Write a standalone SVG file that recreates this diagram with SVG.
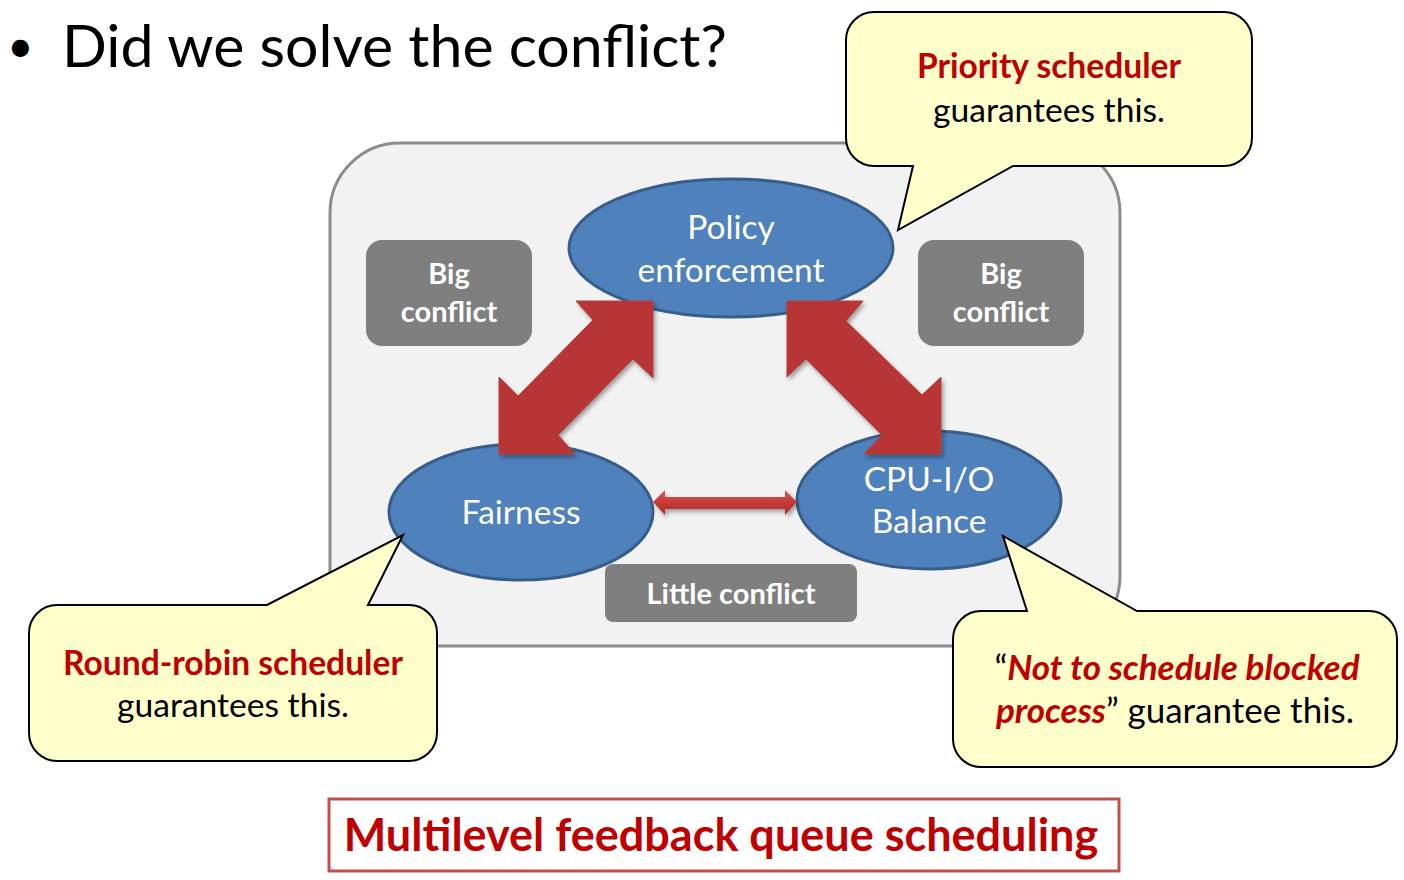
<svg xmlns="http://www.w3.org/2000/svg" width="1404" height="880" viewBox="0 0 1404 880">
  <style>
    text { font-family: Lato, "Open Sans", "Liberation Sans", sans-serif; text-anchor: middle; }
    .title { font-size: 59px; fill: #000; text-anchor: start; }
    .bullet { font-size: 46px; fill: #000; text-anchor: start; }
    .oval { fill: #4f81bd; stroke: #385d8a; stroke-width: 3; }
    .oval-label { font-size: 33.5px; fill: #fff; }
    .tag { fill: #7f7f7f; }
    .tag-label { font-size: 29px; font-weight: bold; fill: #fff; }
    .callout { fill: #ffffcc; stroke: #000; stroke-width: 2; stroke-linejoin: miter; }
    .note { font-size: 33.6px; fill: #000; }
    .note.wide { font-size: 35px; }
    text.red, tspan.red { fill: #c00000; font-weight: bold; }
    .big-arrow { fill: #b83535; stroke: #b0403d; stroke-width: 1; filter: url(#shadow); }
  </style>
  <defs>
    <filter id="shadow" x="-20%" y="-20%" width="140%" height="140%">
      <feGaussianBlur in="SourceAlpha" stdDeviation="2"/>
      <feOffset dx="2" dy="3" result="b"/>
      <feComponentTransfer><feFuncA type="linear" slope="0.35"/></feComponentTransfer>
      <feMerge><feMergeNode/><feMergeNode in="SourceGraphic"/></feMerge>
    </filter>
    <linearGradient id="thin" x1="0" y1="0" x2="0" y2="1">
      <stop offset="0" stop-color="#d45a57"/>
      <stop offset="0.5" stop-color="#c43a37"/>
      <stop offset="1" stop-color="#a82f2c"/>
    </linearGradient>
  </defs>

  <rect width="1404" height="880" fill="#fff"/>

  <!-- heading -->
  <g id="heading">
    <text class="bullet" x="7" y="62">•</text>
    <text class="title" x="62" y="67">Did we solve the conflict?</text>
  </g>

  <!-- background panel -->
  <g id="panel">
    <rect x="330" y="143" width="790" height="503" rx="70" ry="70" fill="#f2f2f2" stroke="#8c8c8c" stroke-width="3"/>
  </g>

  <!-- conflict tags -->
  <g id="tag-left">
    <rect class="tag" x="366" y="240" width="166" height="106" rx="16"/>
    <text class="tag-label" x="449" y="284">Big</text>
    <text class="tag-label" x="449" y="322">conflict</text>
  </g>
  <g id="tag-right">
    <rect class="tag" x="918" y="240" width="166" height="106" rx="16"/>
    <text class="tag-label" x="1001" y="284">Big</text>
    <text class="tag-label" x="1001" y="322">conflict</text>
  </g>
  <g id="tag-bottom">
    <rect class="tag" x="605" y="564" width="252" height="58" rx="8"/>
    <text class="tag-label" x="731" y="604">Little conflict</text>
  </g>

  <!-- goals -->
  <g id="policy">
    <ellipse class="oval" cx="731" cy="248" rx="162" ry="69"/>
    <text class="oval-label" x="731" y="239">Policy</text>
    <text class="oval-label" x="731" y="282">enforcement</text>
  </g>
  <g id="fairness">
    <ellipse class="oval" cx="521" cy="512" rx="132" ry="68"/>
    <text class="oval-label" x="521" y="524">Fairness</text>
  </g>
  <g id="balance">
    <ellipse class="oval" cx="929" cy="500" rx="132" ry="69"/>
    <text class="oval-label" x="929" y="491">CPU-I/O</text>
    <text class="oval-label" x="929" y="533">Balance</text>
  </g>

  <!-- tension arrows between goals -->
  <g id="connectors">
    <polygon class="big-arrow" points="653,301 653,378 633,359 558,435 575,454 499,454 499,377 518,396 593,320 576,301"/>
    <polygon class="big-arrow" points="787,301 863,301 846,321 922,395 941,377 941,454 864,454 882,435 806,359 787,377"/>
    <polygon fill="url(#thin)" filter="url(#shadow)" points="653,502 665,490 665,497 785,497 785,490 797,502 785,515 785,509 665,509 665,515"/>
  </g>

  <!-- callouts -->
  <g id="callout-priority">
    <path class="callout" d="M874,12 H1224 A28,28 0 0 1 1252,40 V138 A28,28 0 0 1 1224,166 H1013 L898,230 L913,166 H874 A28,28 0 0 1 846,138 V40 A28,28 0 0 1 874,12 Z"/>
    <text class="note red" x="1049" y="78">Priority scheduler</text>
    <text class="note" x="1049" y="122">guarantees this.</text>
  </g>
  <g id="callout-roundrobin">
    <path class="callout" d="M57,605 H267 L403,535 L368,605 H409 A28,28 0 0 1 437,633 V733 A28,28 0 0 1 409,761 H57 A28,28 0 0 1 29,733 V633 A28,28 0 0 1 57,605 Z"/>
    <text class="note red" x="233" y="675">Round-robin scheduler</text>
    <text class="note" x="233" y="717">guarantees this.</text>
  </g>
  <g id="callout-blocked">
    <path class="callout" d="M981,611 H1027 L1003,536 L1137,611 H1369 A28,28 0 0 1 1397,639 V739 A28,28 0 0 1 1369,767 H981 A28,28 0 0 1 953,739 V639 A28,28 0 0 1 981,611 Z"/>
    <text class="note wide" x="1177" y="680">“<tspan class="red" font-style="italic">Not to schedule blocked</tspan></text>
    <text class="note wide" x="1175" y="723"><tspan class="red" font-style="italic">process</tspan>” guarantee this.</text>
  </g>

  <!-- answer -->
  <g id="answer">
    <rect x="329" y="799" width="790" height="72" fill="#fff" stroke="#c0504d" stroke-width="3"/>
    <text class="red" x="721" y="851" font-size="45">Multilevel feedback queue scheduling</text>
  </g>
</svg>
